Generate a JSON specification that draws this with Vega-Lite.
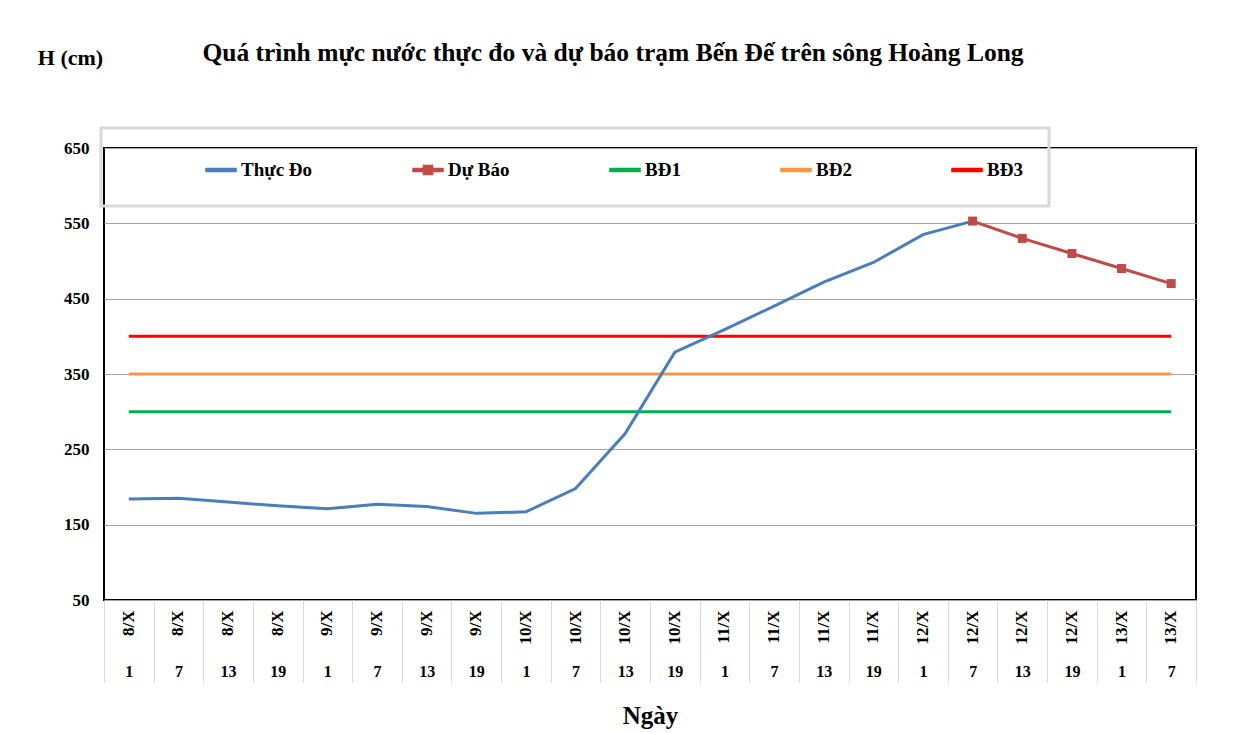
{
  "$schema": "https://vega.github.io/schema/vega-lite/v6.json",
  "width": 1092,
  "height": 452,
  "autosize": {"type": "none"},
  "padding": {"left": 104, "top": 148, "right": 63, "bottom": 133},
  "background": "white",
  "title": {
    "text": "Quá trình mực nước thực đo và dự báo trạm Bến Đế trên sông Hoàng Long",
    "font": "Liberation Serif",
    "fontSize": 25.5,
    "fontWeight": "bold",
    "color": "black",
    "anchor": "middle",
    "frame": "group",
    "dx": -37,
    "dy": 30,
    "offset": 10
  },
  "config": {
    "view": {"stroke": "black", "strokeWidth": 2},
    "font": "Liberation Serif",
    "legend": {"strokeWidth": 3}
  },
  "data": {
    "values": [
      {"t": "8/X 1", "series": "BĐ1", "h": 300},
      {"t": "8/X 7", "series": "BĐ1", "h": 300},
      {"t": "8/X 13", "series": "BĐ1", "h": 300},
      {"t": "8/X 19", "series": "BĐ1", "h": 300},
      {"t": "9/X 1", "series": "BĐ1", "h": 300},
      {"t": "9/X 7", "series": "BĐ1", "h": 300},
      {"t": "9/X 13", "series": "BĐ1", "h": 300},
      {"t": "9/X 19", "series": "BĐ1", "h": 300},
      {"t": "10/X 1", "series": "BĐ1", "h": 300},
      {"t": "10/X 7", "series": "BĐ1", "h": 300},
      {"t": "10/X 13", "series": "BĐ1", "h": 300},
      {"t": "10/X 19", "series": "BĐ1", "h": 300},
      {"t": "11/X 1", "series": "BĐ1", "h": 300},
      {"t": "11/X 7", "series": "BĐ1", "h": 300},
      {"t": "11/X 13", "series": "BĐ1", "h": 300},
      {"t": "11/X 19", "series": "BĐ1", "h": 300},
      {"t": "12/X 1", "series": "BĐ1", "h": 300},
      {"t": "12/X 7", "series": "BĐ1", "h": 300},
      {"t": "12/X 13", "series": "BĐ1", "h": 300},
      {"t": "12/X 19", "series": "BĐ1", "h": 300},
      {"t": "13/X 1", "series": "BĐ1", "h": 300},
      {"t": "13/X 7", "series": "BĐ1", "h": 300},
      {"t": "8/X 1", "series": "BĐ2", "h": 350},
      {"t": "8/X 7", "series": "BĐ2", "h": 350},
      {"t": "8/X 13", "series": "BĐ2", "h": 350},
      {"t": "8/X 19", "series": "BĐ2", "h": 350},
      {"t": "9/X 1", "series": "BĐ2", "h": 350},
      {"t": "9/X 7", "series": "BĐ2", "h": 350},
      {"t": "9/X 13", "series": "BĐ2", "h": 350},
      {"t": "9/X 19", "series": "BĐ2", "h": 350},
      {"t": "10/X 1", "series": "BĐ2", "h": 350},
      {"t": "10/X 7", "series": "BĐ2", "h": 350},
      {"t": "10/X 13", "series": "BĐ2", "h": 350},
      {"t": "10/X 19", "series": "BĐ2", "h": 350},
      {"t": "11/X 1", "series": "BĐ2", "h": 350},
      {"t": "11/X 7", "series": "BĐ2", "h": 350},
      {"t": "11/X 13", "series": "BĐ2", "h": 350},
      {"t": "11/X 19", "series": "BĐ2", "h": 350},
      {"t": "12/X 1", "series": "BĐ2", "h": 350},
      {"t": "12/X 7", "series": "BĐ2", "h": 350},
      {"t": "12/X 13", "series": "BĐ2", "h": 350},
      {"t": "12/X 19", "series": "BĐ2", "h": 350},
      {"t": "13/X 1", "series": "BĐ2", "h": 350},
      {"t": "13/X 7", "series": "BĐ2", "h": 350},
      {"t": "8/X 1", "series": "BĐ3", "h": 400},
      {"t": "8/X 7", "series": "BĐ3", "h": 400},
      {"t": "8/X 13", "series": "BĐ3", "h": 400},
      {"t": "8/X 19", "series": "BĐ3", "h": 400},
      {"t": "9/X 1", "series": "BĐ3", "h": 400},
      {"t": "9/X 7", "series": "BĐ3", "h": 400},
      {"t": "9/X 13", "series": "BĐ3", "h": 400},
      {"t": "9/X 19", "series": "BĐ3", "h": 400},
      {"t": "10/X 1", "series": "BĐ3", "h": 400},
      {"t": "10/X 7", "series": "BĐ3", "h": 400},
      {"t": "10/X 13", "series": "BĐ3", "h": 400},
      {"t": "10/X 19", "series": "BĐ3", "h": 400},
      {"t": "11/X 1", "series": "BĐ3", "h": 400},
      {"t": "11/X 7", "series": "BĐ3", "h": 400},
      {"t": "11/X 13", "series": "BĐ3", "h": 400},
      {"t": "11/X 19", "series": "BĐ3", "h": 400},
      {"t": "12/X 1", "series": "BĐ3", "h": 400},
      {"t": "12/X 7", "series": "BĐ3", "h": 400},
      {"t": "12/X 13", "series": "BĐ3", "h": 400},
      {"t": "12/X 19", "series": "BĐ3", "h": 400},
      {"t": "13/X 1", "series": "BĐ3", "h": 400},
      {"t": "13/X 7", "series": "BĐ3", "h": 400},
      {"t": "8/X 1", "series": "Thực Đo", "h": 184},
      {"t": "8/X 7", "series": "Thực Đo", "h": 185},
      {"t": "8/X 13", "series": "Thực Đo", "h": 180},
      {"t": "8/X 19", "series": "Thực Đo", "h": 175},
      {"t": "9/X 1", "series": "Thực Đo", "h": 171},
      {"t": "9/X 7", "series": "Thực Đo", "h": 177},
      {"t": "9/X 13", "series": "Thực Đo", "h": 174},
      {"t": "9/X 19", "series": "Thực Đo", "h": 165},
      {"t": "10/X 1", "series": "Thực Đo", "h": 167},
      {"t": "10/X 7", "series": "Thực Đo", "h": 198},
      {"t": "10/X 13", "series": "Thực Đo", "h": 271},
      {"t": "10/X 19", "series": "Thực Đo", "h": 379},
      {"t": "11/X 1", "series": "Thực Đo", "h": 409},
      {"t": "11/X 7", "series": "Thực Đo", "h": 440},
      {"t": "11/X 13", "series": "Thực Đo", "h": 472},
      {"t": "11/X 19", "series": "Thực Đo", "h": 498},
      {"t": "12/X 1", "series": "Thực Đo", "h": 535},
      {"t": "12/X 7", "series": "Thực Đo", "h": 553},
      {"t": "12/X 7", "series": "Dự Báo", "h": 553},
      {"t": "12/X 13", "series": "Dự Báo", "h": 530},
      {"t": "12/X 19", "series": "Dự Báo", "h": 510},
      {"t": "13/X 1", "series": "Dự Báo", "h": 490},
      {"t": "13/X 7", "series": "Dự Báo", "h": 470}
    ]
  },
  "layer": [
    {
      "transform": [{"filter": "false"}],
      "mark": {"type": "point", "filled": true, "opacity": 1},
      "encoding": {
        "x": {
          "field": "t", "type": "ordinal", "sort": null,
          "scale": {"type": "band", "paddingInner": 0, "paddingOuter": 0},
          "axis": null
        },
        "y": {"field": "h", "type": "quantitative", "scale": {"domain": [50, 650], "nice": false, "zero": false}},
        "color": {
          "field": "series", "type": "nominal",
          "scale": {"domain": ["Thực Đo", "Dự Báo", "BĐ1", "BĐ2", "BĐ3"], "range": ["#4A7EBB", "#BE4B48", "#00B050", "#F79646", "#FF0000"]},
          "legend": {
            "title": null, "orient": "none", "legendX": -3, "legendY": -20,
            "direction": "horizontal", "columns": 5, "columnPadding": 21,
            "padding": 26, "strokeColor": "#d9d9d9",
            "symbolSize": 900, "symbolOffset": 78, "symbolOpacity": 1,
            "labelFont": "Liberation Serif", "labelFontSize": 19, "labelFontWeight": "bold", "labelColor": "black",
            "labelOffset": 4,
            "labelExpr": "indexof(datum.label, '3') >= 0 ? datum.label + '\u00a0\u00a0\u00a0\u00a0\u00a0\u00a0\u00a0\u00a0\u00a0\u00a0\u00a0\u00a0\u00a0\u00a0\u00a0\u00a0\u00a0\u00a0\u00a0\u00a0\u00a0\u00a0\u00a0' : datum.label"
          }
        },
        "shape": {
          "field": "series", "type": "nominal",
          "scale": {
            "domain": ["Thực Đo", "Dự Báo", "BĐ1", "BĐ2", "BĐ3"],
            "range": [
              "M-1,-0.1H1V0.1H-1Z",
              "M-1,-0.1H1V0.1H-1Z M-0.3,-0.3H0.3V0.3H-0.3Z",
              "M-1,-0.1H1V0.1H-1Z",
              "M-1,-0.1H1V0.1H-1Z",
              "M-1,-0.1H1V0.1H-1Z"
            ]
          },
          "legend": {"title": null}
        }
      }
    },
    {
      "mark": {"type": "line", "strokeWidth": 3},
      "encoding": {
        "x": {
          "field": "t", "type": "ordinal", "sort": null,
          "axis": {
            "orient": "bottom",
            "title": "Ngày",
            "titleFont": "Liberation Serif", "titleFontSize": 25, "titleFontWeight": "bold", "titleColor": "black",
            "titlePadding": 21,
            "labelExpr": "split(datum.value, ' ')[1]",
            "labelAngle": 0,
            "labelFont": "Liberation Serif", "labelFontSize": 16, "labelFontWeight": "bold", "labelColor": "black",
            "labelPadding": -19,
            "ticks": true, "tickBand": "extent", "tickSize": 82, "tickColor": "#d9d9d9", "tickWidth": 1,
            "domain": false, "grid": false
          }
        },
        "y": {
          "field": "h", "type": "quantitative",
          "axis": {
            "values": [50, 150, 250, 350, 450, 550, 650],
            "title": "H (cm)",
            "titleAngle": 0, "titleX": -34, "titleY": -91, "titleAlign": "center", "titleBaseline": "middle",
            "titleFont": "Liberation Serif", "titleFontSize": 22, "titleFontWeight": "bold", "titleColor": "black",
            "labelFont": "Liberation Serif", "labelFontSize": 17, "labelFontWeight": "bold", "labelColor": "black",
            "labelPadding": 15, "ticks": false, "domain": false,
            "grid": true, "gridColor": "#a6a6a6", "gridWidth": 1
          }
        },
        "color": {"field": "series", "type": "nominal", "legend": null}
      }
    },
    {
      "transform": [{"filter": "datum.series == 'Dự Báo'"}],
      "mark": {"type": "point", "shape": "square", "filled": true, "size": 81, "opacity": 1},
      "encoding": {
        "x": {
          "field": "t", "type": "ordinal", "sort": null,
          "axis": {
            "orient": "bottom", "title": null,
            "labelExpr": "split(datum.value, ' ')[0]",
            "labelAngle": 270,
            "labelFont": "Liberation Serif", "labelFontSize": 17, "labelFontWeight": "bold", "labelColor": "black",
            "labelPadding": 10, "ticks": false, "domain": false, "grid": false
          }
        },
        "y": {"field": "h", "type": "quantitative"},
        "color": {"field": "series", "type": "nominal", "legend": null}
      }
    }
  ],
  "resolve": {"axis": {"x": "independent"}}
}
